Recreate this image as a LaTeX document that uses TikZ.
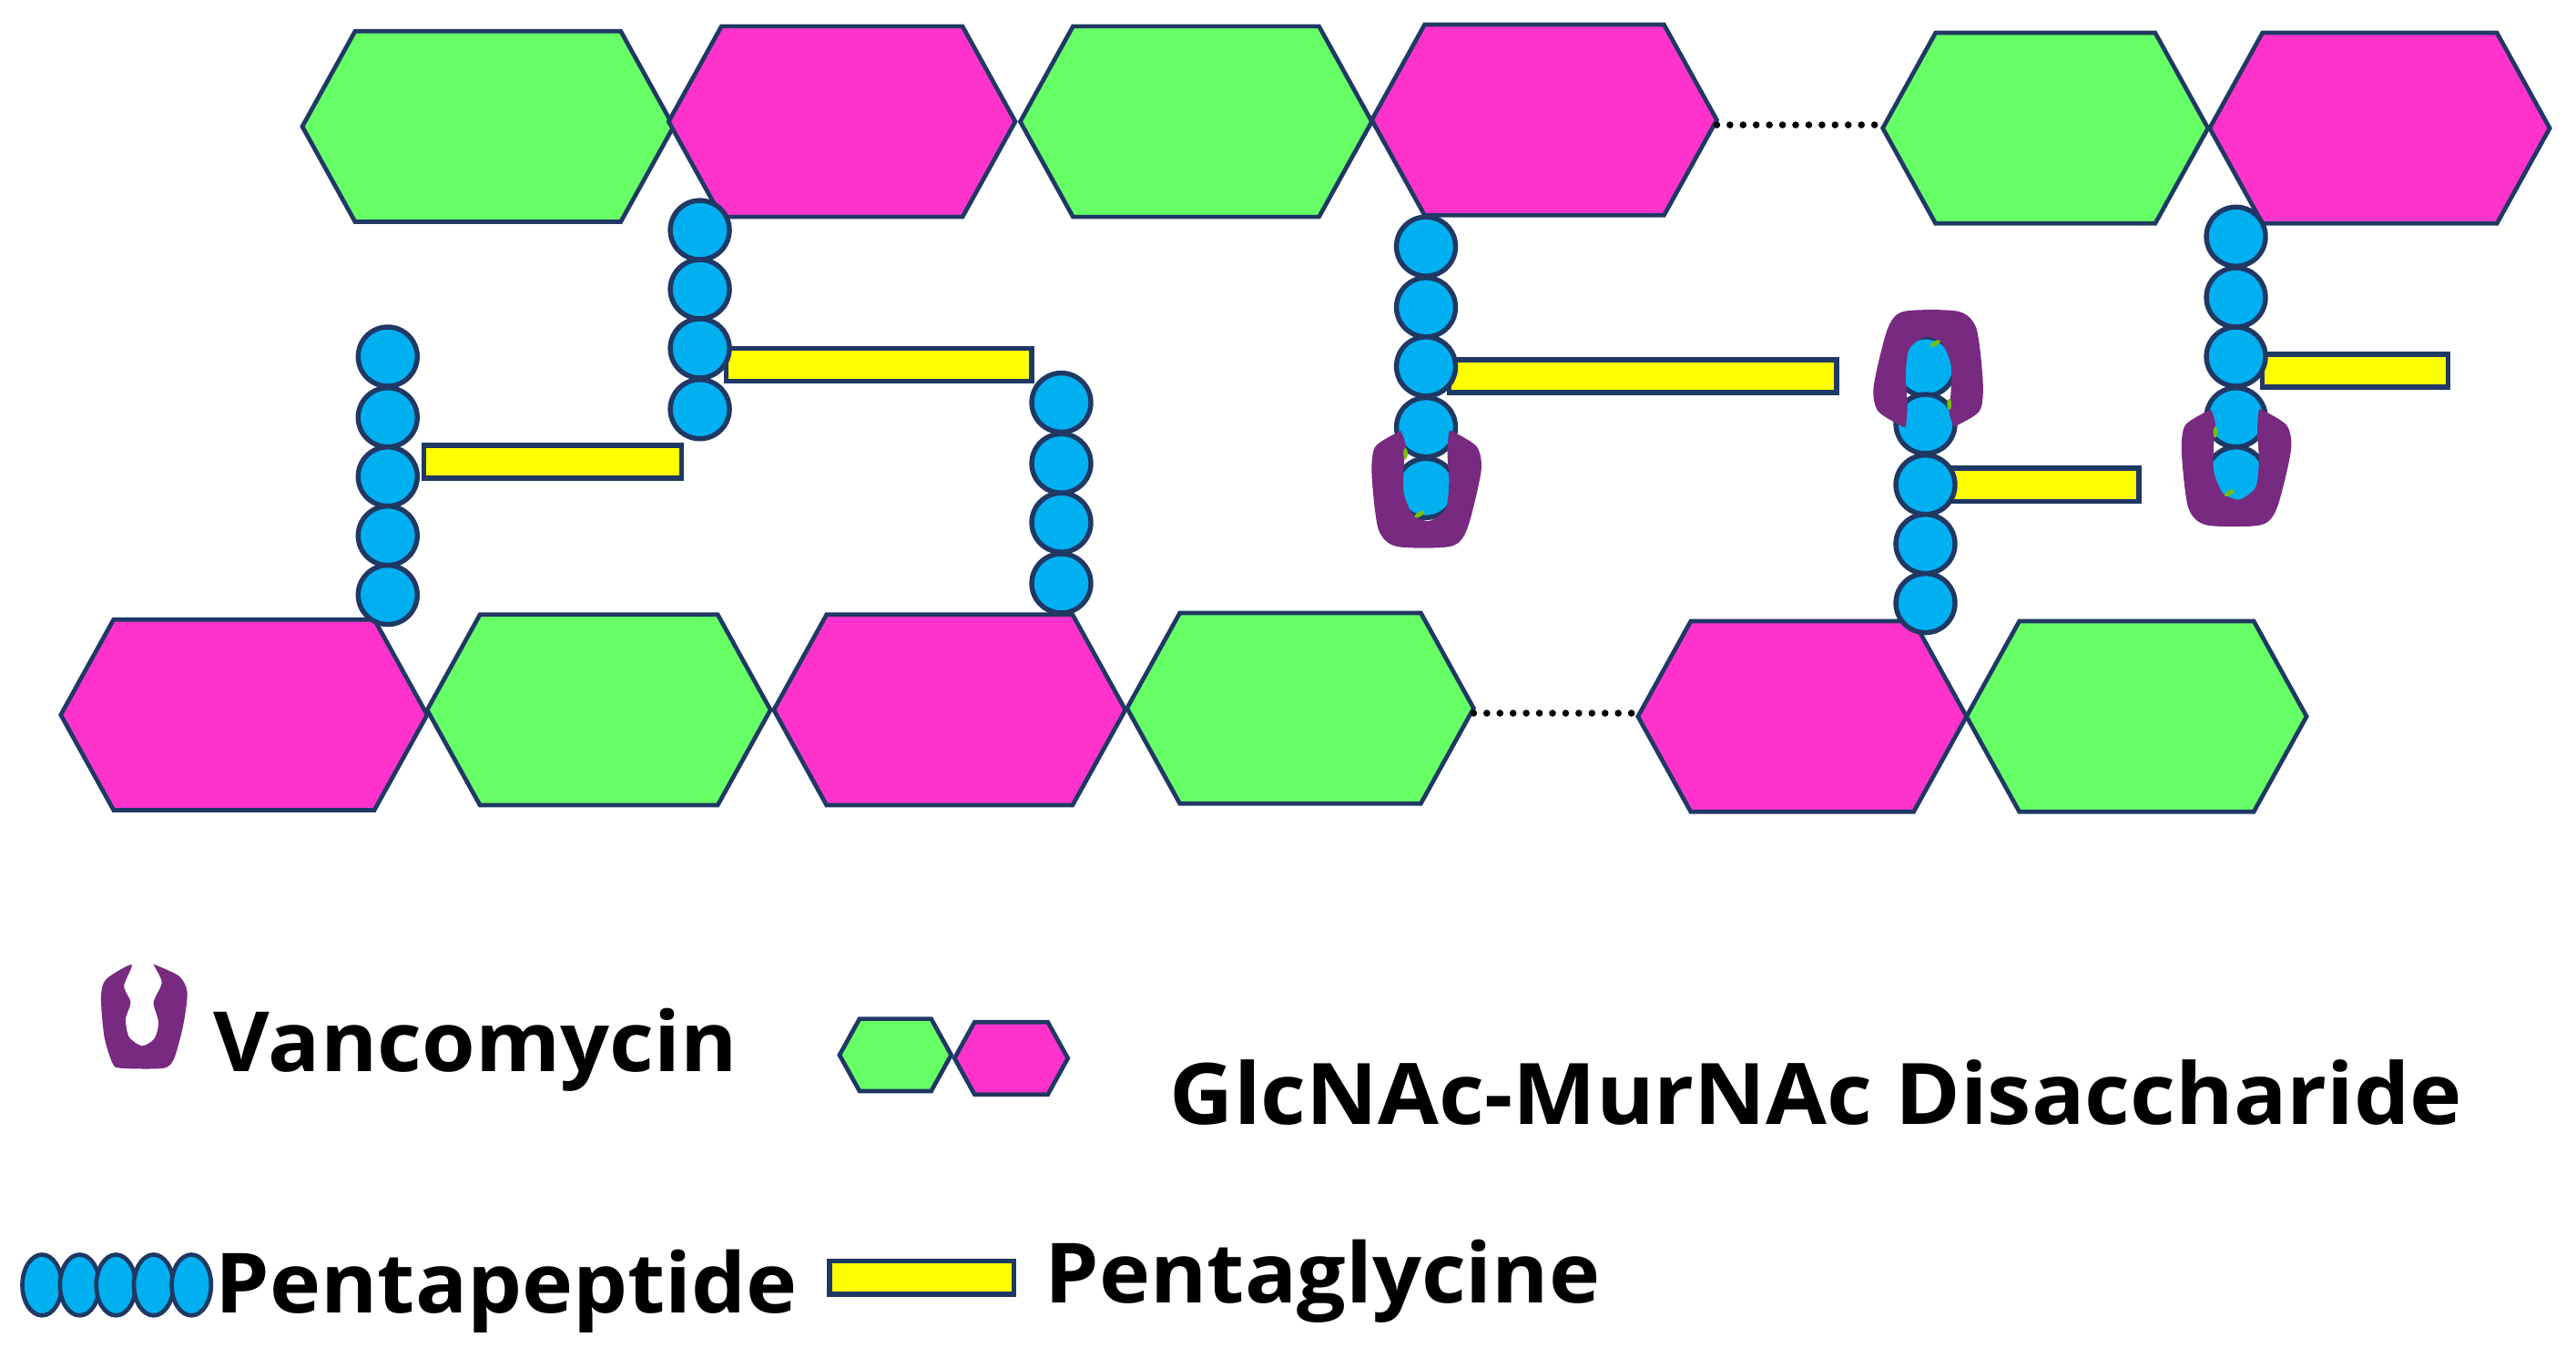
\documentclass[tikz,border=0pt]{standalone}
\usepackage{fontspec}
\setmainfont{Open Sans}[FakeStretch=1.04]
\usetikzlibrary{shapes.symbols,shapes.geometric,positioning}
\definecolor{sugarline}{HTML}{1F3864}
\definecolor{glcnac}{HTML}{66FF66}
\definecolor{murnac}{HTML}{FF33CC}
\definecolor{peptide}{HTML}{00B0F0}
\definecolor{glycine}{HTML}{FFFF00}
\definecolor{vanco}{HTML}{772A7F}
\definecolor{speck}{HTML}{78C010}
\tikzset{
    sugar/.style={signal, signal to=east and west, signal pointer angle=122, draw=sugarline, line width=2.6pt, inner sep=0pt, outer sep=0pt, minimum height=116pt},
    glc/.style={sugar, fill=glcnac},
    mur/.style={sugar, fill=murnac},
    bead/.style={circle, draw=sugarline, fill=peptide, line width=3pt, inner sep=0pt, minimum size=36pt},
    keybead/.style={ellipse, draw=sugarline, fill=peptide, line width=2.6pt, inner sep=0pt, minimum width=24pt, minimum height=37pt},
    gly/.style={rectangle, draw=sugarline, fill=glycine, line width=3pt, inner sep=0pt, minimum height=20pt},
    legendtext/.style={inner sep=0pt, anchor=base west, font=\bfseries\fontsize{50.6}{51}\selectfont},
    gap/.style={line width=4.2pt, dash pattern=on 0pt off 8pt, line cap=round, black},
    vancobound/.pic={
        \fill[vanco] plot[smooth cycle, tension=0.45] coordinates {
            (-17,-35) (-31,-26) (-33,-9) (-29,24) (-18,34.5) (15,34.5) (25,24) (33.5,-11) (31,-26) (17,-35)
            (14,-35) (13,-22) (14,-5) (12,11.5) (2,19) (-8,15) (-13.5,2) (-13.5,-14.5) (-12.5,-27) (-15,-35)};
        \fill[speck, rotate around={30:(-4,15)}] (-4,15) ellipse (3.5pt and 1.4pt);
        \fill[speck] (-12.5,-22) ellipse (1.3pt and 3.5pt);
    },
    vancokey/.pic={
        \fill[vanco] plot[smooth cycle, tension=0.45] coordinates {
            (-7.4,-31) (-23,-22) (-26,-11) (-24,13) (-19,29) (-14,32) (12,32) (18.5,26) (24,6) (26.5,-14) (21.5,-24) (6.5,-31)
            (6.5,-30) (11,-20) (6,-8) (9,4) (6.5,14) (-1,18.5) (-9,13) (-11,2) (-8,-8) (-12,-18)};
    }
}
\begin{document}
\begin{tikzpicture}[x=1pt,y=-1pt]
    \useasboundingbox (0,0) rectangle (1568,825.9);

    % top strand
    \node[glc, minimum width=226pt] (t_1) at (297,77)  {};
    \node[mur, minimum width=211pt] (t_2) at (512.5,74) {};
    \node[glc, minimum width=214pt] (t_3) at (728,74)  {};
    \node[mur, minimum width=210pt] (t_4) at (940,73)  {};
    \node[glc, minimum width=198pt] (t_5) at (1245,78) {};
    \node[mur, minimum width=207pt] (t_6) at (1448.5,78) {};
    \draw[gap] ([yshift=-3pt]t_4.east) -- ([yshift=2pt]t_5.west);

    % bottom strand
    \node[mur, minimum width=223pt] (b_1) at (148.5,435) {};
    \node[glc, minimum width=209pt] (b_2) at (364.5,432) {};
    \node[mur, minimum width=214pt] (b_3) at (578,432)  {};
    \node[glc, minimum width=211pt] (b_4) at (791.5,431) {};
    \node[mur, minimum width=200pt] (b_5) at (1097,436) {};
    \node[glc, minimum width=207pt] (b_6) at (1300.5,436) {};
    \draw[gap] ([yshift=-3pt]b_4.east) -- ([yshift=2pt]b_5.west);

    % glycine bridges
    \node[gly, minimum width=157pt] (y_1) at (336.5,281) {};
    \node[gly, minimum width=186pt] (y_2) at (535,222)  {};
    \node[gly, minimum width=236pt] (y_3) at (1000,229) {};
    \node[gly, minimum width=114pt] (y_4) at (1245,295) {};
    \node[gly, minimum width=113pt] (y_5) at (1433.5,225.5) {};

    % peptide stems
    \foreach \y [count=\i] in {217,254,290,326,362}
        \node[bead] (p_a\i) at (236,\y) {};
    \foreach \y [count=\i] in {140,176,212,249}
        \node[bead] (p_b\i) at (426,\y) {};
    \foreach \y [count=\i] in {245,282,318,355}
        \node[bead] (p_c\i) at (646,\y) {};
    \foreach \y [count=\i] in {150,187,223,260,297}
        \node[bead] (p_d\i) at (868,\y) {};
    \foreach \y [count=\i] in {223,258,295,331,367}
        \node[bead] (p_e\i) at (1172,\y) {};
    \foreach \y [count=\i] in {144,181,217,254,290}
        \node[bead] (p_f\i) at (1361,\y) {};

    % bound antibiotic
    \pic at (868,298) {vancobound};
    \pic[rotate=180] at (1174,224) {vancobound};
    \pic at (1361,285) {vancobound};

    % legend
    \pic at (87.5,618) {vancokey};
    \node[legendtext] (l_v) at (130,652) {Vancomycin};
    \node[legendtext, font=\bfseries\fontsize{51.7}{52}\selectfont] (l_d) at (712,684.5) {GlcNAc-MurNAc Disaccharide};
    \node[legendtext] (l_p) at (131,799) {Pentapeptide};
    \node[legendtext] (l_g) at (636,793) {Pentaglycine};
    \node[glc, minimum width=68pt, minimum height=44pt] (k_1) at (545,642) {};
    \node[mur, minimum width=69pt, minimum height=44pt] (k_2) at (615.5,644) {};
    \node[gly, minimum width=112pt] (k_y) at (561,777.5) {};
    \foreach \x [count=\i] in {25.6,48.5,70.6,93.5,116.5}
        \node[keybead] (k_p\i) at (\x,782) {};
\end{tikzpicture}
\end{document}
